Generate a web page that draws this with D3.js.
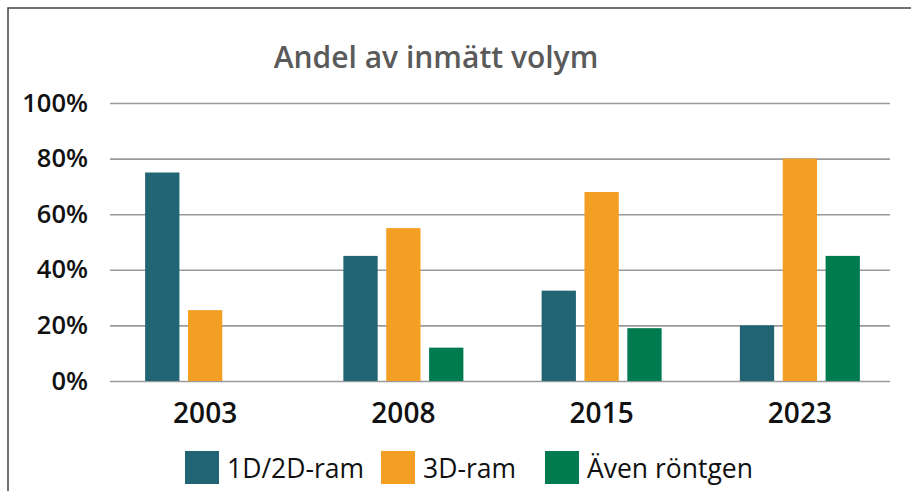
<!DOCTYPE html>
<html>
<head>
<meta charset="utf-8">
<script src="https://cdn.jsdelivr.net/npm/d3@7"></script>
<style>
  body { margin: 0; background: #fff; }
  text { font-family: "Open Sans", sans-serif; }
</style>
</head>
<body>
<div class="canvas"></div>
<script>
// chart data
const years = ['2003', '2008', '2015', '2023']
const seriesNames = ['1D/2D-ram', '3D-ram', 'Även röntgen']
const ram12 = [75, 45, 32.5, 20]
const ram3 = [25.5, 55, 68, 80]
const rontgen = [0, 12, 19, 45]
const yTicks = [0, 20, 40, 60, 80, 100]
const colors = ['#216474', '#f39f24', '#007a4f']

const width = 911
const height = 491

const svg = d3.select('.canvas')
  .append('svg')
  .attr('width', width)
  .attr('height', height)

// outer frame (runs past the right and bottom edge)
svg.append('rect')
  .attr('x', 8).attr('y', 8)
  .attr('width', 920).attr('height', 500)
  .attr('fill', 'none')
  .attr('stroke', '#444')
  .attr('stroke-width', 1.5)

const y = d3.scaleLinear()
  .domain([0, 100])
  .range([381, 103])

const x = d3.scaleBand()
  .domain(years)
  .range([106, 899])

const xInner = d3.scaleBand()
  .domain(seriesNames)
  .range([x.bandwidth() / 2 - 60, x.bandwidth() / 2 + 60])
  .paddingInner(0.2)

// gridlines
const yAxis = d3.axisLeft(y)
  .tickValues(yTicks)
  .tickSize(-780)
  .tickFormat(d => d + '%')

const yAxisGroup = svg.append('g')
  .attr('transform', 'translate(110, 0)')
  .call(yAxis)

yAxisGroup.select('.domain').remove()
yAxisGroup.selectAll('line')
  .attr('stroke', '#9a9a9a')
  .attr('stroke-width', 1.6)
yAxisGroup.selectAll('text')
  .attr('x', -22)
  .attr('fill', '#111')
  .attr('font-size', 25.5)
  .attr('font-weight', 600)
  .attr('font-family', '"Open Sans", sans-serif')

// bars
const data = years.map((yr, i) => ({
  year: yr,
  values: [ram12[i], ram3[i], rontgen[i]]
}))

const groups = svg.selectAll('.grp')
  .data(data)
  .enter()
  .append('g')
  .attr('transform', d => `translate(${x(d.year)}, 0)`)

groups.selectAll('rect')
  .data(d => d.values.map((v, j) => ({ name: seriesNames[j], value: v, c: colors[j] })))
  .enter()
  .append('rect')
  .attr('x', d => xInner(d.name))
  .attr('width', xInner.bandwidth())
  .attr('y', d => y(d.value))
  .attr('height', d => y(0) - y(d.value))
  .attr('fill', d => d.c)

// x labels
const xAxis = d3.axisBottom(x).tickSize(0)
const xAxisGroup = svg.append('g')
  .attr('transform', 'translate(0, 381)')
  .call(xAxis)
xAxisGroup.select('.domain').remove()
xAxisGroup.selectAll('text')
  .attr('y', 22)
  .attr('dy', '0.71em')
  .attr('fill', '#111')
  .attr('font-size', 28)
  .attr('font-weight', 600)
  .attr('font-family', '"Open Sans", sans-serif')

// title
svg.append('text')
  .attr('x', 436)
  .attr('y', 68)
  .attr('text-anchor', 'middle')
  .attr('fill', '#5a5a5a')
  .attr('font-size', 30)
  .attr('font-weight', 600)
  .text('Andel av inmätt volym')

// legend
const legendX = [185, 381, 545]
const legend = svg.selectAll('.leg')
  .data(seriesNames)
  .enter()
  .append('g')
  .attr('transform', (d, i) => `translate(${legendX[i]}, 451)`)

legend.append('rect')
  .attr('width', 34)
  .attr('height', 33)
  .attr('fill', (d, i) => colors[i])

legend.append('text')
  .attr('x', 42)
  .attr('y', 27)
  .attr('fill', '#111')
  .attr('font-size', 26.5)
  .text(d => d)
</script>
</body>
</html>
